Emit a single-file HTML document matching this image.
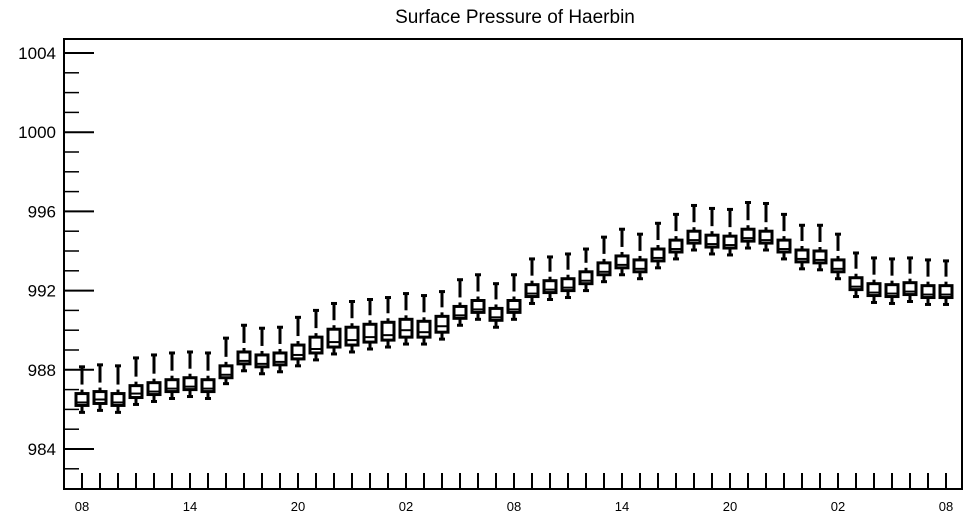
<!DOCTYPE html>
<html><head><meta charset="utf-8"><style>
body{margin:0;background:#fff;}
svg{display:block;font-family:"Liberation Sans",Arial,sans-serif;}
</style></head><body>
<svg id="chart" width="969" height="518" viewBox="0 0 969 518" xmlns="http://www.w3.org/2000/svg">
<text x="515" y="23" font-size="19" text-anchor="middle">Surface Pressure of Haerbin</text>
<rect x="64" y="39" width="898" height="450" fill="none" stroke="#000" stroke-width="2"/>
<g id="axes"></g>
<g id="boxes"></g>
</svg>
<script>
const xLabels = ["08","14","20","02","08","14","20","02","08"];
const yTicks = [984, 988, 992, 996, 1000, 1004];
const q1 = [986.2,986.3,986.2,986.6,986.75,986.9,987.0,986.9,987.6,988.3,988.15,988.25,988.55,988.85,989.15,989.25,989.4,989.5,989.65,989.65,989.9,990.6,990.9,990.5,990.9,991.7,991.9,992.0,992.35,992.8,993.15,992.95,993.5,993.95,994.4,994.2,994.15,994.5,994.4,993.95,993.45,993.4,992.95,992.05,991.75,991.7,991.8,991.65,991.65];
const med = [986.35,986.5,986.35,986.8,986.9,987.05,987.15,987.05,987.75,988.45,988.3,988.4,988.75,989.05,989.4,989.5,989.65,989.75,990.0,989.9,990.2,990.75,991.05,990.65,991.05,991.85,992.05,992.15,992.5,992.95,993.3,993.1,993.65,994.1,994.55,994.35,994.3,994.65,994.55,994.1,993.6,993.55,993.1,992.2,991.9,991.85,991.95,991.8,991.8];
const q3 = [986.8,986.9,986.8,987.2,987.35,987.5,987.6,987.5,988.2,988.9,988.75,988.85,989.25,989.65,990.05,990.15,990.3,990.4,990.55,990.45,990.7,991.2,991.5,991.1,991.5,992.3,992.5,992.6,992.95,993.4,993.75,993.55,994.1,994.55,995.0,994.8,994.75,995.1,995.0,994.55,994.05,994.0,993.55,992.65,992.35,992.3,992.4,992.25,992.25];
const maxv = [988.15,988.25,988.2,988.6,988.75,988.85,988.9,988.85,989.6,990.25,990.1,990.15,990.65,991.0,991.35,991.45,991.55,991.65,991.85,991.75,991.95,992.55,992.8,992.35,992.8,993.6,993.7,993.85,994.1,994.7,995.1,994.85,995.4,995.85,996.3,996.15,996.1,996.45,996.4,995.85,995.3,995.3,994.85,993.9,993.65,993.6,993.65,993.55,993.5];
const minv = [985.85,985.95,985.85,986.25,986.4,986.55,986.65,986.55,987.3,987.95,987.8,987.9,988.2,988.5,988.8,988.9,989.05,989.15,989.3,989.3,989.55,990.25,990.55,990.15,990.55,991.35,991.55,991.65,992.0,992.45,992.8,992.6,993.15,993.6,994.05,993.85,993.8,994.15,994.05,993.6,993.1,993.05,992.6,991.7,991.4,991.35,991.45,991.3,991.3];

const NS="http://www.w3.org/2000/svg";
function X(i){return 82+i*18;}
function Y(v){return 53+(1004-v)*19.8;}
const axes=document.getElementById('axes'), boxes=document.getElementById('boxes');
function mk(tag,attrs,parent){const e=document.createElementNS(NS,tag);for(const k in attrs)e.setAttribute(k,attrs[k]);parent.appendChild(e);return e;}
// y ticks
for(let v=983; v<=1004; v++){
  const major = yTicks.includes(v);
  const t=mk('line',{x1:64,x2:64+(major?30:15),y1:Y(v),y2:Y(v),stroke:'#000','stroke-width':major?2:1.5},axes);
  
  
}
yTicks.forEach(v=>{
  const t=mk('text',{x:56,y:Y(v)+6,'font-size':17,'text-anchor':'end'},axes);
  t.textContent=v;
  
  
});
// x ticks
for(let i=0;i<q1.length;i++){
  const t=mk('line',{x1:X(i),x2:X(i),y1:489,y2:473,stroke:'#000','stroke-width':2},axes);
  
  
}
xLabels.forEach((s,k)=>{
  const t=mk('text',{x:X(k*6),y:511,'font-size':13,'text-anchor':'middle'},axes);
  t.textContent=s;
  
  
});
// boxes
for(let i=0;i<q1.length;i++){
  const g=mk('g',{stroke:'#000','stroke-width':3,fill:'none'},boxes);
  
  
  const x=X(i), w=12;
  mk('line',{x1:x,x2:x,y1:Y(q3[i]),y2:Y(q3[i])-4},g);
  mk('line',{x1:x,x2:x,y1:Y(q3[i])-9,y2:Y(maxv[i])},g);
  mk('line',{x1:x-3,x2:x+3,y1:Y(maxv[i]),y2:Y(maxv[i])},g);
  mk('line',{x1:x,x2:x,y1:Y(q1[i]),y2:Y(minv[i])},g);
  mk('line',{x1:x-3,x2:x+3,y1:Y(minv[i]),y2:Y(minv[i])},g);
  mk('rect',{x:x-w/2,y:Y(q3[i]),width:w,height:Y(q1[i])-Y(q3[i]),fill:'#fff'},g);
  mk('line',{x1:x-w/2,x2:x+w/2,y1:Y(med[i]),y2:Y(med[i]),'stroke-width':2},g);
}
</script>
</body></html>
